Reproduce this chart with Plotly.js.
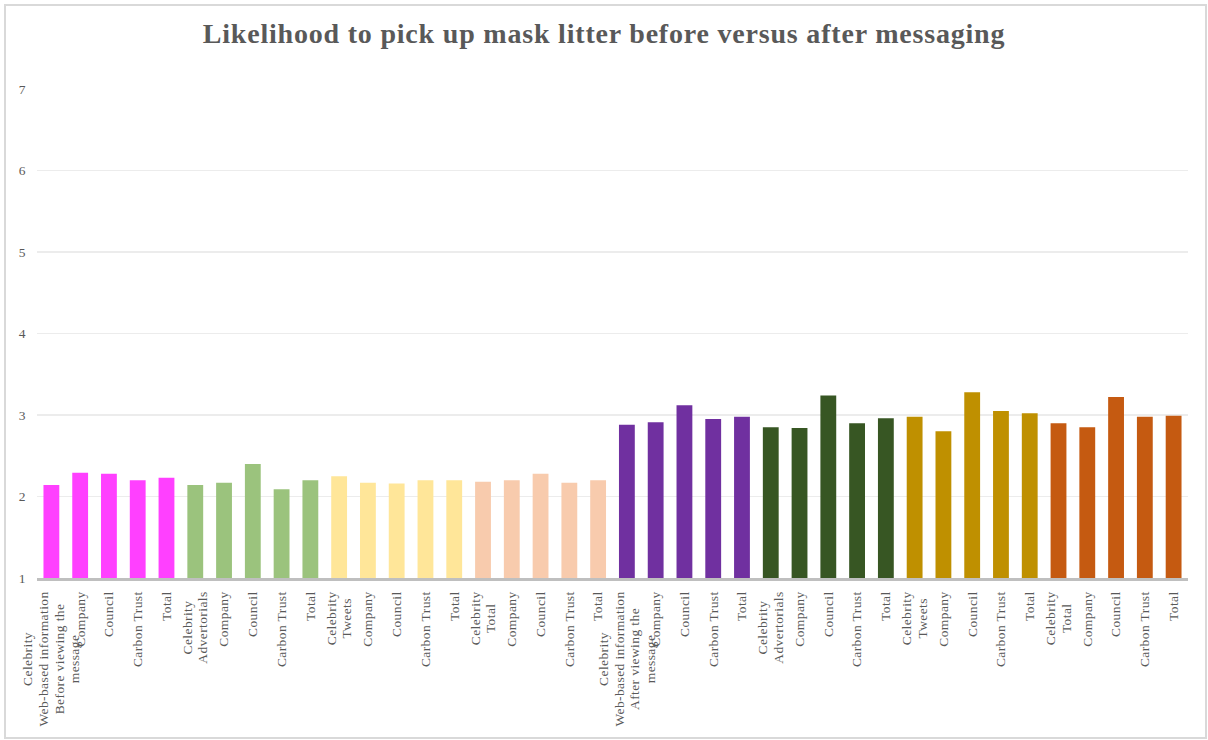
<!DOCTYPE html>
<html>
<head>
<meta charset="utf-8">
<script src="https://cdn.plot.ly/plotly-3.0.1.min.js"></script>
<style>
  html, body { margin: 0; padding: 0; background: #ffffff; }
  #wrap { position: relative; width: 1208px; height: 740px; }
  #chart { position: absolute; left: 0; top: 0; width: 1208px; height: 740px; }
  #frame { position: absolute; left: 4px; top: 4px; width: 1199px; height: 731px;
           border: 2px solid #d9d9d9; pointer-events: none; }
  #chart .gtitle { letter-spacing: 0.8px; }
  #chart .xtick text { letter-spacing: 0.4px; }
  #chart .ytick text { letter-spacing: 0.4px; }
</style>
</head>
<body>
<div id="wrap">
  <div id="chart"></div>
  <div id="frame"></div>
</div>
<script>
// ---- Data ----
const sources = ["Celebrity", "Company", "Council", "Carbon Trust", "Total"];
const messageTypes = ["Web-based information", "Advertorials", "Tweets", "Total"];
const phaseLabels = ["Before viewing the<br>message", "After viewing the<br>message"];

const beforeWeb    = [2.14, 2.29, 2.28, 2.20, 2.23];
const beforeAdv    = [2.14, 2.17, 2.40, 2.09, 2.20];
const beforeTweets = [2.25, 2.17, 2.16, 2.20, 2.20];
const beforeTotal  = [2.18, 2.20, 2.28, 2.17, 2.20];
const afterWeb     = [2.88, 2.91, 3.12, 2.95, 2.98];
const afterAdv     = [2.85, 2.84, 3.24, 2.90, 2.96];
const afterTweets  = [2.98, 2.80, 3.28, 3.05, 3.02];
const afterTotal   = [2.90, 2.85, 3.22, 2.98, 2.99];

const seriesValues = [
  [beforeWeb, beforeAdv, beforeTweets, beforeTotal],
  [afterWeb, afterAdv, afterTweets, afterTotal]
];
const groupColors = [
  ["#FF40FF", "#9BC37D", "#FFE699", "#F8CBAD"],
  ["#7030A0", "#375623", "#BF9000", "#C55A11"]
];

const yTickVals = [1, 2, 3, 4, 5, 6, 7];

// ---- Build traces ----
const FONT = '"Liberation Serif", "Times New Roman", serif';
const traces = [];
const tickVals = [];
const tickText = [];
let idx = 0;
phaseLabels.forEach((phase, p) => {
  messageTypes.forEach((mtype, t) => {
    const xs = [];
    sources.forEach((src, s) => {
      let label = src;
      if (s === 0) {
        label += "<br>" + mtype;
        if (t === 0) label += "<br>" + phase;
      }
      xs.push(idx);
      tickVals.push(idx);
      tickText.push(label);
      idx++;
    });
    traces.push({
      type: "bar",
      x: xs,
      y: seriesValues[p][t].map(v => v - 1),  // bars rise from the axis minimum (1)
      base: 1,
      width: 0.55,
      marker: { color: groupColors[p][t], line: { width: 0 } },
      hoverinfo: "skip",
      showlegend: false
    });
  });
});

const layout = {
  width: 1208,
  height: 740,
  paper_bgcolor: "rgba(0,0,0,0)",
  plot_bgcolor: "rgba(0,0,0,0)",
  margin: { l: 37, r: 20, t: 89, b: 162 },
  barmode: "overlay",
  showlegend: false,
  hovermode: false,
  title: {
    text: "<b>Likelihood to pick up mask litter before versus after messaging</b>",
    font: { family: FONT, size: 28, color: "#595959" },
    x: 0.5, xanchor: "center",
    y: 1 - 33 / 740, yanchor: "middle", yref: "container"
  },
  xaxis: {
    type: "linear",
    range: [-0.5, idx - 0.5],
    tickmode: "array",
    tickvals: tickVals,
    ticktext: tickText,
    tickangle: -90,
    tickfont: { family: FONT, size: 13.5, color: "#595959" },
    showgrid: false,
    zeroline: false,
    showline: true,
    linecolor: "#bfbfbf",
    linewidth: 3,
    ticks: "",
    ticklabelstandoff: 5,
    fixedrange: true
  },
  yaxis: {
    range: [1, 7],
    tickmode: "array",
    tickvals: yTickVals,
    ticktext: yTickVals.map(String),
    tickfont: { family: FONT, size: 13.5, color: "#595959" },
    showgrid: true,
    gridcolor: "#ececec",
    gridwidth: 1.5,
    zeroline: false,
    showline: false,
    ticks: "",
    ticklabelstandoff: 10,
    fixedrange: true
  }
};

// Excel-style multi-line labels: tighter line spacing, lines centred on each other
function restyleTickLines() {
  const NEW_LS = 1.15, OLD_LS = 1.3;
  document.querySelectorAll("#chart .xtick text").forEach(txt => {
    const lines = Array.from(txt.querySelectorAll("tspan.line"));
    if (lines.length < 2) return;
    const n = lines.length;
    const shift = (n - 1) * (OLD_LS - NEW_LS) / 2;
    lines.forEach((ln, i) => {
      ln.setAttribute("dy", (i * NEW_LS + shift) + "em");
    });
    const lens = lines.map(ln => ln.getComputedTextLength());
    const maxLen = Math.max.apply(null, lens);
    lines.forEach(ln => {
      const x = parseFloat(ln.getAttribute("x"));
      ln.setAttribute("x", x - maxLen / 2);
      ln.style.textAnchor = "middle";
    });
  });
}

Plotly.newPlot("chart", traces, layout, { displayModeBar: false, staticPlot: true })
  .then(restyleTickLines);
</script>
</body>
</html>
